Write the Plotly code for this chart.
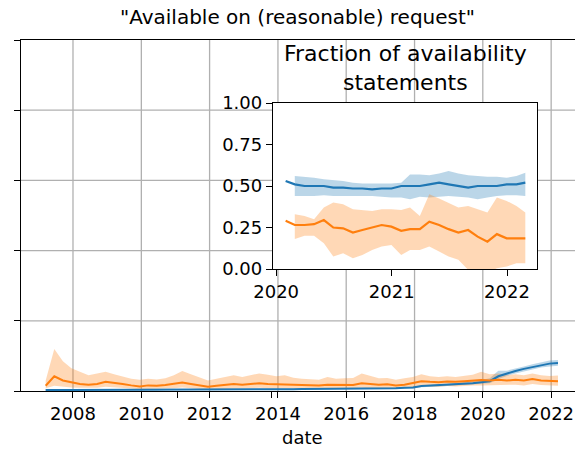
import pandas as pd
import plotly.graph_objects as go

# ---------------- main panel: quarterly series ----------------
main_dates = pd.date_range("2007-03-15", periods=61, freq=pd.DateOffset(months=3))

blue_main = [0.003, 0.004, 0.003, 0.003, 0.003, 0.003, 0.003, 0.004, 0.003, 0.003,
             0.003, 0.003, 0.003, 0.003, 0.004, 0.004, 0.004, 0.004, 0.004, 0.004,
             0.004, 0.004, 0.004, 0.004, 0.005, 0.005, 0.005, 0.005, 0.005, 0.005,
             0.006, 0.006,
             0.006, 0.006, 0.007, 0.007, 0.007, 0.007, 0.008, 0.008, 0.008, 0.008,
             0.009, 0.010,
             0.014, 0.015, 0.016, 0.017, 0.019, 0.020, 0.022, 0.025,
             0.028, 0.042, 0.050, 0.057, 0.063, 0.068, 0.074, 0.078, 0.080]
blue_main_lo = [0.001, 0.002, 0.001, 0.001, 0.001, 0.001, 0.001, 0.002, 0.001, 0.001,
                0.001, 0.001, 0.001, 0.001, 0.002, 0.002, 0.002, 0.002, 0.002, 0.002,
                0.002, 0.002, 0.002, 0.002, 0.003, 0.003, 0.003, 0.003, 0.003, 0.003,
                0.004, 0.004,
                0.004, 0.004, 0.005, 0.005, 0.005, 0.005, 0.006, 0.006, 0.006, 0.006,
                0.007, 0.007,
                0.011, 0.012, 0.013, 0.014, 0.015, 0.016, 0.018, 0.020,
                0.022, 0.034, 0.043, 0.050, 0.056, 0.061, 0.067, 0.070, 0.072]
blue_main_hi = [0.006, 0.007, 0.006, 0.006, 0.005, 0.005, 0.005, 0.006, 0.005, 0.005,
                0.005, 0.005, 0.005, 0.005, 0.006, 0.006, 0.006, 0.006, 0.006, 0.006,
                0.006, 0.006, 0.006, 0.006, 0.007, 0.007, 0.007, 0.007, 0.007, 0.007,
                0.008, 0.008,
                0.008, 0.008, 0.009, 0.009, 0.009, 0.009, 0.010, 0.010, 0.010, 0.010,
                0.011, 0.013,
                0.017, 0.018, 0.019, 0.020, 0.023, 0.024, 0.027, 0.031,
                0.036, 0.058, 0.058, 0.065, 0.070, 0.076, 0.082, 0.087, 0.088]

orange_main = [0.015, 0.042, 0.030, 0.024, 0.020, 0.018, 0.020, 0.026, 0.022, 0.020,
               0.016, 0.013, 0.016, 0.015, 0.017, 0.020, 0.024, 0.020, 0.016, 0.012,
               0.015, 0.017, 0.020, 0.018, 0.020, 0.022, 0.020, 0.019, 0.020, 0.017,
               0.016, 0.015, 0.016, 0.018, 0.017, 0.018, 0.017, 0.022, 0.020, 0.018,
               0.019, 0.016, 0.018, 0.022, 0.028, 0.026, 0.025, 0.027, 0.026, 0.028,
               0.030, 0.031, 0.030, 0.032, 0.030, 0.032, 0.030, 0.034, 0.030, 0.028,
               0.028]
orange_main_lo = [0.008, 0.015, 0.012, 0.010, 0.009, 0.008, 0.009, 0.012, 0.010, 0.009,
                  0.007, 0.005, 0.006, 0.006, 0.007, 0.008, 0.010, 0.008, 0.006, 0.004,
                  0.005, 0.007, 0.008, 0.007, 0.008, 0.009, 0.008, 0.008, 0.008, 0.007,
                  0.006, 0.006, 0.006, 0.007, 0.007, 0.007, 0.007, 0.009, 0.008, 0.007,
                  0.008, 0.006, 0.007, 0.010, 0.014, 0.013, 0.012, 0.014, 0.013, 0.014,
                  0.016, 0.016, 0.016, 0.018, 0.017, 0.018, 0.016, 0.020, 0.017, 0.015,
                  0.015]
orange_main_hi = [0.030, 0.120, 0.085, 0.065, 0.055, 0.045, 0.050, 0.055, 0.048, 0.042,
                  0.035, 0.032, 0.035, 0.033, 0.036, 0.045, 0.057, 0.048, 0.040, 0.030,
                  0.035, 0.040, 0.045, 0.040, 0.045, 0.050, 0.046, 0.042, 0.045, 0.038,
                  0.035, 0.033, 0.032, 0.040, 0.035, 0.036, 0.037, 0.050, 0.042, 0.036,
                  0.037, 0.032, 0.036, 0.040, 0.048, 0.042, 0.040, 0.042, 0.040, 0.044,
                  0.046, 0.055, 0.048, 0.050, 0.045, 0.048, 0.045, 0.050, 0.045, 0.043,
                  0.044]

# ---------------- inset: monthly fractions, 2020-2022 ----------------
inset_dates = pd.date_range("2020-01-31", periods=26, freq=pd.offsets.MonthEnd())

blue_frac = [0.53, 0.51, 0.50, 0.50, 0.50, 0.49, 0.49, 0.485, 0.485, 0.48,
             0.485, 0.485, 0.50, 0.50, 0.50, 0.51, 0.52, 0.51, 0.50, 0.49,
             0.50, 0.50, 0.50, 0.51, 0.51, 0.52]
blue_frac_lo = [None, 0.44, 0.44, 0.44, 0.445, 0.44, 0.44, 0.44, 0.44, 0.44,
                0.435, 0.43, 0.43, 0.42, 0.435, 0.43, 0.435, 0.44, 0.435, 0.43,
                0.42, 0.43, 0.44, 0.445, 0.445, 0.44]
blue_frac_hi = [None, 0.56, 0.555, 0.55, 0.54, 0.535, 0.53, 0.52, 0.515, 0.515,
                0.515, 0.515, 0.52, 0.57, 0.57, 0.565, 0.575, 0.59, 0.575, 0.565,
                0.56, 0.555, 0.555, 0.55, 0.56, 0.58]

orange_frac = [0.29, 0.265, 0.265, 0.27, 0.295, 0.25, 0.245, 0.22, 0.235, 0.25,
               0.265, 0.255, 0.23, 0.24, 0.24, 0.285, 0.265, 0.24, 0.22, 0.235,
               0.195, 0.165, 0.21, 0.185, 0.185, 0.185]
orange_frac_lo = [None, 0.18, 0.20, 0.20, 0.155, 0.075, 0.095, 0.065, 0.085, 0.115,
                  0.135, 0.145, 0.085, 0.115, 0.115, 0.135, 0.105, 0.075, 0.055, -0.005,
                  -0.015, -0.025, 0.005, 0.015, 0.035, 0.035]
orange_frac_hi = [None, 0.33, 0.32, 0.30, 0.37, 0.40, 0.39, 0.36, 0.355, 0.35,
                  0.36, 0.36, 0.355, 0.37, 0.32, 0.45, 0.425, 0.40, 0.37, 0.38,
                  0.36, 0.34, 0.43, 0.41, 0.38, 0.34]

main_ticks = ["2008", "2010", "2012", "2014", "2016", "2018", "2020", "2022"]
main_minor_ticks = ["2008-05-01", "2011-01-26", "2013-10-23", "2016-07-19", "2019-04-15"]
main_yticks = [0.0, 0.2, 0.4, 0.6, 0.8, 1.0]
inset_ticks = ["2020", "2021", "2022"]
frac_ticks = [0.0, 0.25, 0.5, 0.75, 1.0]

BLUE = "#1f77b4"
ORANGE = "#ff7f0e"
BLUE_FILL = "rgba(31,119,180,0.3)"
ORANGE_FILL = "rgba(255,127,14,0.3)"
GRID = "#b0b0b0"
FONT = "DejaVu Sans"

W, H = 575, 450
L, R, T, B = 21, 0, 40, 59
PW, PH = W - L - R, H - T - B
X_RANGE = ["2006-06-24", "2022-09-13"]


def px(x):
    return (x - L) / PW


def py(y):
    return (H - B - y) / PH


def band(dates, lo, hi, color, xa, ya):
    pts = [(d, l, h) for d, l, h in zip(dates, lo, hi) if l is not None]
    xs = [p[0] for p in pts]
    ys_hi = [p[2] for p in pts]
    ys_lo = [p[1] for p in pts]
    return go.Scatter(x=xs + xs[::-1], y=ys_hi + ys_lo[::-1], fill="toself",
                      fillcolor=color, line=dict(width=0), mode="lines",
                      hoverinfo="skip", showlegend=False, xaxis=xa, yaxis=ya)


md = [d.strftime("%Y-%m-%d") for d in main_dates]
idt = [d.strftime("%Y-%m-%d") for d in inset_dates]

fig = go.Figure()
fig.add_trace(band(md, blue_main_lo, blue_main_hi, BLUE_FILL, "x", "y"))
fig.add_trace(band(md, orange_main_lo, orange_main_hi, ORANGE_FILL, "x", "y"))
fig.add_trace(go.Scatter(x=md, y=blue_main, mode="lines", line=dict(color=BLUE, width=2),
                         showlegend=False))
fig.add_trace(go.Scatter(x=md, y=orange_main, mode="lines", line=dict(color=ORANGE, width=2),
                         showlegend=False))

fig.add_trace(band(idt, blue_frac_lo, blue_frac_hi, BLUE_FILL, "x2", "y2"))
fig.add_trace(band(idt, orange_frac_lo, orange_frac_hi, ORANGE_FILL, "x2", "y2"))
fig.add_trace(go.Scatter(x=idt, y=blue_frac, mode="lines", line=dict(color=BLUE, width=2.2),
                         showlegend=False, xaxis="x2", yaxis="y2"))
fig.add_trace(go.Scatter(x=idt, y=orange_frac, mode="lines", line=dict(color=ORANGE, width=2.2),
                         showlegend=False, xaxis="x2", yaxis="y2"))

AX = dict(showline=True, linecolor="black", linewidth=1.3, ticks="outside", ticklen=6,
          tickwidth=1.3, tickcolor="black", zeroline=False, showgrid=False,
          tickfont=dict(family=FONT, size=18, color="black"))

inset_x = [px(273), px(537)]
inset_y = [py(269), py(103)]

# main grid drawn as shapes so the inset's white backing can sit on top of it
shapes = []
for t in main_ticks:
    shapes.append(dict(type="line", xref="x", yref="y", x0=f"{t}-01-01", x1=f"{t}-01-01",
                       y0=0, y1=1, line=dict(color=GRID, width=1.3), layer="below"))
for v in main_yticks[1:-1]:
    shapes.append(dict(type="line", xref="x", yref="y", x0=X_RANGE[0], x1=X_RANGE[1],
                       y0=v, y1=v, line=dict(color=GRID, width=1.3), layer="below"))
shapes.append(dict(type="rect", xref="x", yref="y", x0="2013-11-10", x1="2021-08-04",
                   y0=inset_y[0], y1=inset_y[1], fillcolor="white",
                   line=dict(width=0), layer="below"))

fig.update_layout(
    width=W, height=H,
    margin=dict(l=L, r=R, t=T, b=B, pad=0),
    paper_bgcolor="white", plot_bgcolor="white",
    font=dict(family=FONT, color="black"),
    xaxis=dict(AX, type="date", domain=[0, 1], range=X_RANGE,
               tickmode="array",
               tickvals=[f"{t}-01-01" for t in main_ticks], ticktext=main_ticks,
               mirror=True,
               minor=dict(tickmode="array", tickvals=main_minor_ticks,
                          ticks="outside", ticklen=6, tickwidth=1.3,
                          tickcolor="black", showgrid=False)),
    yaxis=dict(AX, domain=[0, 1], range=[0, 1], tickmode="array",
               tickvals=main_yticks, showticklabels=False),
    xaxis2=dict(AX, type="date", domain=inset_x, anchor="y2",
                range=["2019-12-22", "2022-04-06"], tickmode="array",
                tickvals=[f"{t}-01-01" for t in inset_ticks], ticktext=inset_ticks,
                mirror=True),
    yaxis2=dict(AX, domain=inset_y, anchor="x2", range=[0, 1], tickmode="array",
                tickvals=frac_ticks, ticktext=[f"{v:.2f}" for v in frac_ticks],
                mirror=True),
    shapes=shapes,
    annotations=[
        dict(text='"Available on (reasonable) request"', xref="paper", yref="paper",
             x=px(297), y=py(17), xanchor="center", yanchor="middle", showarrow=False,
             font=dict(family=FONT, size=20, color="black")),
        dict(text="date", xref="paper", yref="paper", x=px(302), y=py(437),
             xanchor="center", yanchor="middle", showarrow=False,
             font=dict(family=FONT, size=18, color="black")),
        dict(text="Fraction of availability<br>statements", xref="paper", yref="paper",
             x=px(405), y=py(68), xanchor="center", yanchor="middle", showarrow=False,
             font=dict(family=FONT, size=22, color="black")),
    ],
)

fig.write_html("out.html")
